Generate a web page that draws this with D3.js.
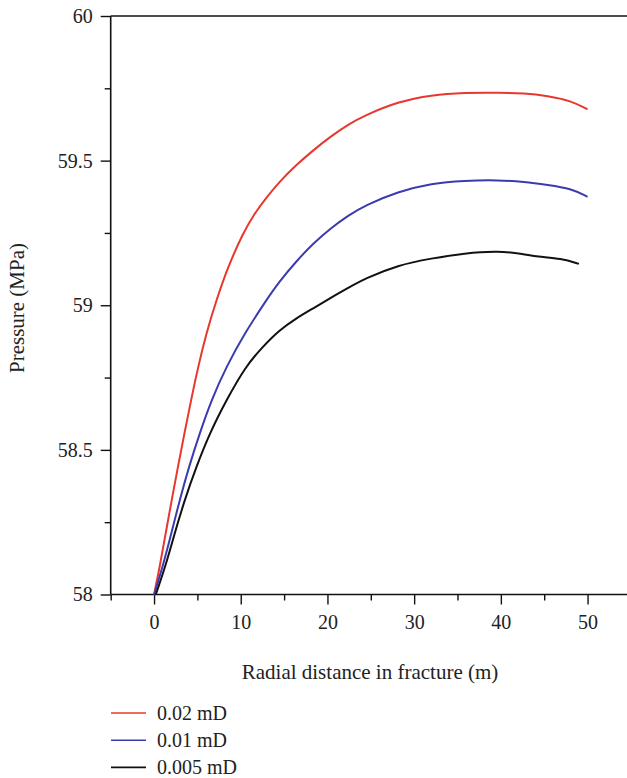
<!DOCTYPE html>
<html>
<head>
<meta charset="utf-8">
<script src="https://cdn.jsdelivr.net/npm/d3@7"></script>
<style>
  body { margin: 0; background: #fff; }
</style>
</head>
<body>
<div id="chart"></div>
<script>
// radial distance (m) and pressure (MPa), one pair per series
let dist002 = [0, 0.66, 1.34, 2.04, 2.76, 3.5, 4.27, 5.09, 6.03, 7.19, 8.53, 10.27, 11.6, 13.03, 14.4, 16.4, 18.4, 20.45, 22.4, 24.3, 28.14, 32, 35.8, 39.7, 42.7, 45.4, 48.1, 50];
let p002 = [58, 58.096, 58.212, 58.327, 58.442, 58.557, 58.672, 58.788, 58.903, 59.018, 59.133, 59.25, 59.318, 59.375, 59.425, 59.485, 59.537, 59.585, 59.625, 59.656, 59.704, 59.727, 59.735, 59.735, 59.733, 59.724, 59.707, 59.677];

let dist001 = [0, 1.0, 2.0, 2.96, 4.03, 5.26, 6.61, 8.34, 10.45, 12.95, 14.4, 16.4, 18.4, 20.45, 22.4, 24.3, 28.14, 32, 35.8, 39.7, 42.7, 45.4, 48.1, 50];
let p001 = [58, 58.096, 58.212, 58.327, 58.442, 58.557, 58.672, 58.788, 58.903, 59.018, 59.08, 59.152, 59.215, 59.268, 59.31, 59.345, 59.393, 59.422, 59.431, 59.433, 59.427, 59.416, 59.404, 59.375];

let dist0005 = [0.2, 1.3, 2.38, 3.53, 4.88, 6.41, 8.34, 10.55, 12.45, 14.4, 16.4, 18.4, 20.45, 22.4, 24.3, 28.14, 32, 35.8, 39.7, 42.7, 44.1, 47, 49];
let p0005 = [58, 58.096, 58.212, 58.327, 58.442, 58.557, 58.672, 58.788, 58.854, 58.913, 58.955, 58.99, 59.027, 59.06, 59.092, 59.139, 59.162, 59.18, 59.188, 59.177, 59.168, 59.162, 59.143];

let seriesNames = ['0.02 mD', '0.01 mD', '0.005 mD'];
let seriesColors = ['#e8372e', '#3b3bb0', '#111111'];

let yMajor = [58, 58.5, 59, 59.5, 60];
let yMinor = [58.25, 58.75, 59.25, 59.75];
let xMajor = [0, 10, 20, 30, 40, 50];
let xMinor = [-5, 5, 15, 25, 35, 45];

let width = 627, height = 778;
let serif = 'Liberation Serif, DejaVu Serif, serif';

let series = [
    {name: seriesNames[0], color: seriesColors[0], values: dist002.map((d, i) => [d, p002[i]])},
    {name: seriesNames[1], color: seriesColors[1], values: dist001.map((d, i) => [d, p001[i]])},
    {name: seriesNames[2], color: seriesColors[2], values: dist0005.map((d, i) => [d, p0005[i]])}
];

let svg = d3.select('#chart').append('svg')
    .attr('width', width)
    .attr('height', height)
    .attr('font-family', serif);

let xScale = d3.scaleLinear()
    .domain([-5, 55])
    .range([110.7, 630.9]);

let yScale = d3.scaleLinear()
    .domain([58, 60])
    .range([594.5, 16]);

function styleAxis(g) {
    g.attr('font-family', serif).attr('font-size', 20);
    g.select('.domain').remove();
    g.selectAll('text').attr('fill', '#222').attr('font-family', serif);
}

// x axis
svg.append('g')
    .attr('transform', `translate(0, ${yScale(58)})`)
    .call(d3.axisBottom(xScale).tickValues(xMinor).tickSize(6).tickSizeOuter(0).tickFormat(''))
    .call(styleAxis);

svg.append('g')
    .attr('transform', `translate(0, ${yScale(58)})`)
    .call(d3.axisBottom(xScale).tickValues(xMajor).tickSize(10).tickSizeOuter(0).tickPadding(10))
    .call(styleAxis);

// y axis
svg.append('g')
    .attr('transform', `translate(${xScale(-5)}, 0)`)
    .call(d3.axisLeft(yScale).tickValues(yMinor).tickSize(6).tickSizeOuter(0).tickFormat(''))
    .call(styleAxis);

svg.append('g')
    .attr('transform', `translate(${xScale(-5)}, 0)`)
    .call(d3.axisLeft(yScale).tickValues(yMajor).tickSize(10).tickSizeOuter(0).tickPadding(8).tickFormat(d => d))
    .call(styleAxis);

svg.selectAll('.tick line').attr('stroke', '#111').attr('stroke-width', 1.4);

// frame lines (left, bottom, top)
let frame = svg.append('g').attr('stroke', '#111').attr('stroke-width', 1.6);
frame.append('line')
    .attr('x1', xScale(-5)).attr('x2', xScale(-5))
    .attr('y1', yScale(60)).attr('y2', yScale(58));
frame.append('line')
    .attr('x1', xScale(-5)).attr('x2', width)
    .attr('y1', yScale(58)).attr('y2', yScale(58));
frame.append('line')
    .attr('x1', xScale(-5)).attr('x2', width)
    .attr('y1', yScale(60)).attr('y2', yScale(60));

// curves
let line = d3.line()
    .x(d => xScale(d[0]))
    .y(d => yScale(d[1]))
    .curve(d3.curveBasis);

svg.append('g')
    .selectAll('path')
    .data(series)
    .join('path')
    .attr('fill', 'none')
    .attr('stroke', d => d.color)
    .attr('stroke-width', 2)
    .attr('stroke-linejoin', 'round')
    .attr('d', d => line(d.values));

// axis titles
svg.append('text')
    .attr('x', 370)
    .attr('y', 679)
    .attr('text-anchor', 'middle')
    .attr('fill', '#222')
    .attr('font-size', 21)
    .text('Radial distance in fracture (m)');

svg.append('text')
    .attr('transform', `translate(24, 308) rotate(-90)`)
    .attr('text-anchor', 'middle')
    .attr('fill', '#222')
    .attr('font-size', 21)
    .text('Pressure (MPa)');

// legend
let legend = svg.append('g')
    .selectAll('g')
    .data(series)
    .join('g')
    .attr('transform', (d, i) => `translate(111, ${713 + i * 27.2})`);

legend.append('line')
    .attr('x1', 0).attr('x2', 35)
    .attr('stroke', d => d.color)
    .attr('stroke-width', 1.6);

legend.append('text')
    .attr('x', 46)
    .attr('dy', '0.35em')
    .attr('fill', '#222')
    .attr('font-size', 20)
    .text(d => d.name);
</script>
</body>
</html>
